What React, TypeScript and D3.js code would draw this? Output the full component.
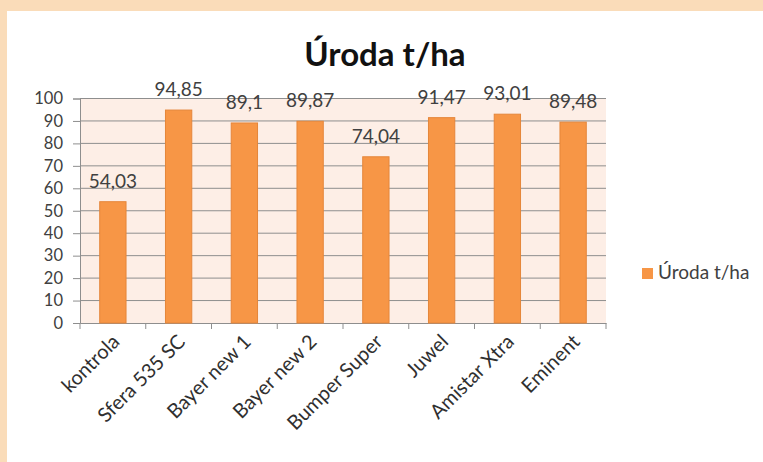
import { useEffect, useRef } from 'react';
import * as d3 from 'd3';

const categories = ['kontrola', 'Sfera 535 SC', 'Bayer new 1', 'Bayer new 2', 'Bumper Super', 'Juwel', 'Amistar Xtra', 'Eminent'];
const values = [54.03, 94.85, 89.1, 89.87, 74.04, 91.47, 93.01, 89.48];
const yTicks = [0, 10, 20, 30, 40, 50, 60, 70, 80, 90, 100];
const seriesName = 'Úroda t/ha';

const W = 763;
const H = 462;
const FONT = 'Lato, "Open Sans", sans-serif';

const App = () => {
    const ref = useRef<SVGSVGElement>(null);

    useEffect(() => {
        const svg = d3.select(ref.current);
        svg.selectAll('*').remove();

        // page background + white panel
        svg.append('rect').attr('width', W).attr('height', H).attr('fill', '#fadcb9');
        svg.append('rect').attr('x', 7).attr('y', 11).attr('width', W - 7).attr('height', H - 11).attr('fill', '#ffffff');

        const left = 80, right = 606, top = 98.5, bottom = 323;

        const x = d3.scaleBand().domain(categories).range([left, right]).paddingInner(0.6).paddingOuter(0.3);
        const band = d3.scaleBand().domain(categories).range([left, right]);
        const y = d3.scaleLinear().domain([0, 100]).range([bottom, top]);

        svg.append('rect')
            .attr('x', left).attr('y', top)
            .attr('width', right - left).attr('height', bottom - top)
            .attr('fill', '#fdeee6');

        // grid
        svg.append('g')
            .selectAll('line')
            .data(yTicks.filter(t => t > 0))
            .enter()
            .append('line')
            .attr('x1', left).attr('x2', right)
            .attr('y1', d => y(d)).attr('y2', d => y(d))
            .attr('stroke', '#8e8e8e').attr('stroke-width', 1);

        // y axis
        const yAxis = svg.append('g')
            .attr('transform', `translate(${left},0)`)
            .call(d3.axisLeft(y).tickValues(yTicks).tickSize(7).tickPadding(10).tickFormat(d3.format('d')));
        yAxis.select('.domain').attr('stroke', '#8e8e8e');
        yAxis.selectAll('line').attr('stroke', '#8e8e8e');
        yAxis.selectAll('text')
            .attr('font-family', FONT).attr('font-size', 16.5).attr('fill', '#404040');

        // x axis
        const xAxis = svg.append('g')
            .attr('transform', `translate(0,${bottom})`)
            .call(d3.axisBottom(band).tickSize(0).tickFormat(() => ''));
        xAxis.select('.domain').attr('stroke', '#8e8e8e');
        xAxis.selectAll('.tick').remove();
        svg.append('g')
            .selectAll('line')
            .data([...categories.map(c => band(c) as number), right])
            .enter()
            .append('line')
            .attr('x1', d => d).attr('x2', d => d)
            .attr('y1', bottom).attr('y2', bottom + 6)
            .attr('stroke', '#8e8e8e');

        svg.append('g')
            .selectAll('text')
            .data(categories)
            .enter()
            .append('text')
            .attr('transform', d => `translate(${(band(d) as number) + band.bandwidth() / 2 + 3},${bottom + 15}) rotate(-45)`)
            .attr('text-anchor', 'end')
            .attr('dy', '0.35em')
            .attr('font-family', FONT).attr('font-size', 20).attr('fill', '#303030')
            .text(d => d);

        // bars
        svg.append('g')
            .selectAll('rect')
            .data(categories)
            .enter()
            .append('rect')
            .attr('x', d => x(d) as number)
            .attr('y', (d, i) => y(values[i]))
            .attr('width', x.bandwidth())
            .attr('height', (d, i) => bottom - y(values[i]))
            .attr('fill', '#f79646')
            .attr('stroke', '#e5863a')
            .attr('stroke-width', 1);

        // data labels
        svg.append('g')
            .selectAll('text')
            .data(categories)
            .enter()
            .append('text')
            .attr('x', d => (x(d) as number) + x.bandwidth() / 2)
            .attr('y', (d, i) => y(values[i]) - 14)
            .attr('text-anchor', 'middle')
            .attr('font-family', FONT).attr('font-size', 19).attr('fill', '#404040')
            .text((d, i) => String(values[i]).replace('.', ','));

        // title
        svg.append('text')
            .attr('x', 385).attr('y', 66)
            .attr('text-anchor', 'middle')
            .attr('font-family', FONT).attr('font-size', 33).attr('font-weight', 'bold').attr('fill', '#111')
            .text(seriesName);

        // legend
        svg.append('rect')
            .attr('x', 642).attr('y', 268).attr('width', 11).attr('height', 11)
            .attr('fill', '#f79646');
        svg.append('text')
            .attr('x', 658).attr('y', 279)
            .attr('font-family', FONT).attr('font-size', 19).attr('fill', '#404040')
            .text(seriesName);
    }, []);

    return <svg ref={ref} width={W} height={H} style={{ position: 'absolute', left: 0, top: 0 }}></svg>;
};

export default App;
